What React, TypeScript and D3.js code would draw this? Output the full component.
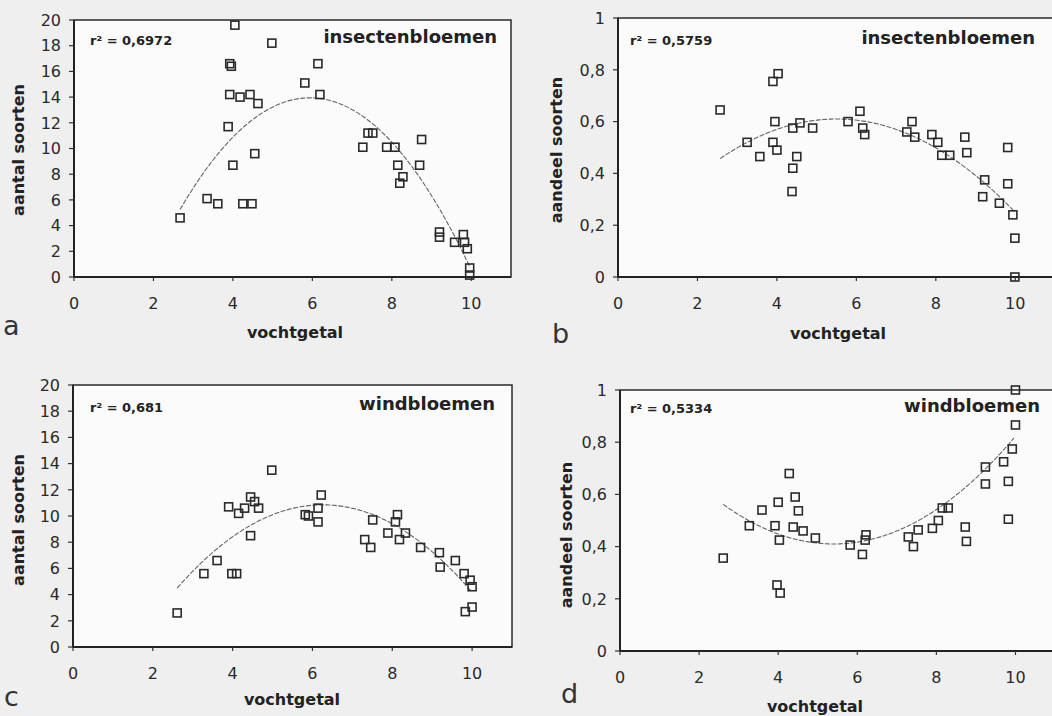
import { useEffect, useRef } from "react";
import * as d3 from "d3";

const W = 1052;
const H = 716;

// x ticks (vochtgetal) and y tick labels
const xTicks = [0, 2, 4, 6, 8, 10];
const countTicks = [0, 2, 4, 6, 8, 10, 12, 14, 16, 18, 20];
const shareTicks = [0, 0.2, 0.4, 0.6, 0.8, 1];
const shareTickLabels = ["0", "0,2", "0,4", "0,6", "0,8", "1"];

// a: insectenbloemen, aantal soorten
const insectCount = [
  [2.67, 4.6], [3.35, 6.1], [3.62, 5.7], [3.88, 11.7], [3.92, 16.6], [3.96, 16.4],
  [4.05, 19.6], [3.92, 14.2], [4.18, 14.0], [4.0, 8.7], [4.25, 5.7], [4.48, 5.7],
  [4.43, 14.2], [4.63, 13.5], [4.55, 9.6], [4.98, 18.2], [5.81, 15.1], [6.14, 16.6],
  [6.19, 14.2], [7.27, 10.1], [7.4, 11.2], [7.52, 11.2], [7.87, 10.1], [8.08, 10.1],
  [8.75, 10.7], [8.15, 8.7], [8.7, 8.7], [8.28, 7.8], [8.2, 7.3], [9.2, 3.5],
  [9.2, 3.1], [9.58, 2.7], [9.8, 3.3], [9.83, 2.7], [9.9, 2.2], [9.96, 0.7], [9.96, 0.15],
];
// b: insectenbloemen, aandeel soorten
const insectShare = [
  [2.57, 0.645], [3.25, 0.52], [3.57, 0.465], [3.9, 0.52], [4.0, 0.49], [3.9, 0.755],
  [4.03, 0.785], [3.95, 0.6], [4.38, 0.33], [4.4, 0.42], [4.5, 0.465], [4.4, 0.575],
  [4.58, 0.595], [4.9, 0.575], [5.79, 0.6], [6.09, 0.64], [6.16, 0.575], [6.21, 0.55],
  [7.27, 0.56], [7.4, 0.6], [7.47, 0.54], [7.9, 0.55], [8.05, 0.52], [8.15, 0.47],
  [8.35, 0.47], [8.73, 0.54], [8.78, 0.48], [9.23, 0.375], [9.18, 0.31], [9.6, 0.285],
  [9.81, 0.5], [9.81, 0.36], [9.94, 0.24], [9.99, 0.15], [9.99, 0.0],
];
// c: windbloemen, aantal soorten
const windCount = [
  [2.61, 2.6], [3.28, 5.6], [3.61, 6.6], [3.98, 5.6], [4.1, 5.6], [3.9, 10.7],
  [4.15, 10.2], [4.3, 10.6], [4.45, 11.45], [4.55, 11.1], [4.65, 10.6], [4.45, 8.5],
  [4.98, 13.5], [5.82, 10.1], [5.9, 10.0], [6.22, 11.6], [6.14, 10.6], [6.14, 9.55],
  [7.31, 8.2], [7.46, 7.6], [7.51, 9.7], [7.89, 8.7], [8.08, 9.55], [8.13, 10.1],
  [8.18, 8.2], [8.33, 8.7], [8.71, 7.6], [9.18, 7.2], [9.2, 6.1], [9.58, 6.6],
  [9.8, 5.6], [9.95, 5.1], [10.0, 4.6], [9.83, 2.7], [10.0, 3.05],
];
// d: windbloemen, aandeel soorten
const windShare = [
  [2.61, 0.356], [3.27, 0.48], [3.59, 0.54], [4.0, 0.57], [3.92, 0.48], [4.03, 0.425],
  [3.97, 0.253], [4.05, 0.222], [4.28, 0.68], [4.43, 0.59], [4.51, 0.537], [4.38, 0.475],
  [4.63, 0.46], [4.94, 0.433], [5.82, 0.406], [6.13, 0.37], [6.2, 0.425], [6.22, 0.445],
  [7.29, 0.437], [7.42, 0.4], [7.54, 0.464], [7.9, 0.47], [8.05, 0.5], [8.15, 0.548],
  [8.3, 0.548], [8.73, 0.475], [8.76, 0.42], [9.24, 0.64], [9.24, 0.705], [9.7, 0.725],
  [9.82, 0.65], [9.82, 0.505], [9.92, 0.774], [10.0, 0.866], [10.0, 1.0],
];

// quadratic fits: [c0, c1, c2] and x range of the drawn curve
const insectCountFit = [-14.74, 9.658, -0.813];
const insectShareFit = [0.0715, 0.1958, -0.0178];
const windCountFit = [-7.84, 5.972, -0.477];
const windShareFit = [0.9786, -0.2106, 0.0195];
const insectCountRange = [2.67, 10];
const insectShareRange = [2.57, 10];
const windCountRange = [2.61, 10];
const windShareRange = [2.61, 10];

const r2Labels = ["0,6972", "0,5759", "0,681", "0,5334"];
const panelTitles = ["insectenbloemen", "insectenbloemen", "windbloemen", "windbloemen"];
const yTitles = ["aantal soorten", "aandeel soorten", "aantal soorten", "aandeel soorten"];
const panelLetters = ["a", "b", "c", "d"];

const FONT = "'DejaVu Sans', Verdana, sans-serif";

const App = () => {
  const svgRef = useRef(null);

  useEffect(() => {
    const svg = d3.select(svgRef.current);
    svg.selectAll("*").remove();

    svg.append("rect").attr("width", W).attr("height", H).attr("fill", "#efefef");

    const panels = [
      { pts: insectCount, fit: insectCountFit, range: insectCountRange, share: false,
        box: { l: 74, t: 20, r: 511, b: 277 }, r2: [90, 45], title: [497, 43],
        xLab: [295, 338], yLab: [18, 150], letter: [3, 335] },
      { pts: insectShare, fit: insectShareFit, range: insectShareRange, share: true,
        box: { l: 618, t: 18, r: 1055, b: 277 }, r2: [630, 45], title: [1035, 44],
        xLab: [838, 339], yLab: [556, 150], letter: [552, 343] },
      { pts: windCount, fit: windCountFit, range: windCountRange, share: false,
        box: { l: 73, t: 385, r: 512, b: 647 }, r2: [90, 412], title: [495, 410],
        xLab: [292, 705], yLab: [18, 520], letter: [4, 706] },
      { pts: windShare, fit: windShareFit, range: windShareRange, share: true,
        box: { l: 620, t: 390, r: 1055, b: 651 }, r2: [630, 413], title: [1040, 412],
        xLab: [815, 712], yLab: [566, 535], letter: [561, 703] },
    ];

    panels.forEach((p, i) => {
      const { l, t, r, b } = p.box;
      const x = d3.scaleLinear().domain([0, 11]).range([l, r]);
      const y = d3.scaleLinear().domain([0, p.share ? 1 : 20]).range([b, t]);
      const g = svg.append("g");

      g.append("rect")
        .attr("x", l).attr("y", t).attr("width", r - l).attr("height", b - t)
        .attr("fill", "#fbfbfb")
        .attr("stroke", "#2a2a2a")
        .attr("stroke-width", 1.5);
      // heavier left/bottom axes
      g.append("line").attr("x1", l).attr("x2", l).attr("y1", t).attr("y2", b)
        .attr("stroke", "#222").attr("stroke-width", 2);
      g.append("line").attr("x1", l).attr("x2", r).attr("y1", b).attr("y2", b)
        .attr("stroke", "#222").attr("stroke-width", 2);

      const yt = p.share ? shareTicks : countTicks;
      yt.forEach((v, k) => {
        g.append("line").attr("x1", l - 5).attr("x2", l).attr("y1", y(v)).attr("y2", y(v))
          .attr("stroke", "#333").attr("stroke-width", 1.2);
        g.append("text")
          .attr("x", l - 13).attr("y", y(v)).attr("dy", "0.36em")
          .attr("text-anchor", "end")
          .style("font-family", FONT).style("font-size", "16px").attr("fill", "#2a2a2a")
          .text(p.share ? shareTickLabels[k] : String(v));
      });
      xTicks.forEach((v) => {
        g.append("line").attr("x1", x(v)).attr("x2", x(v)).attr("y1", b).attr("y2", b + 4)
          .attr("stroke", "#333").attr("stroke-width", 1.2);
        g.append("text")
          .attr("x", x(v)).attr("y", b + 32)
          .attr("text-anchor", "middle")
          .style("font-family", FONT).style("font-size", "16px").attr("fill", "#2a2a2a")
          .text(String(v));
      });

      // fitted curve
      const [c0, c1, c2] = p.fit;
      const xs = d3.range(p.range[0], p.range[1] + 0.001, 0.05);
      const line = d3.line()
        .x((d) => x(d))
        .y((d) => y(c0 + c1 * d + c2 * d * d))
        .curve(d3.curveLinear);
      g.append("path")
        .attr("d", line(xs))
        .attr("fill", "none")
        .attr("stroke", "#666")
        .attr("stroke-width", 1.1)
        .attr("stroke-dasharray", "5 1.5");

      // points
      g.append("g")
        .selectAll("rect")
        .data(p.pts)
        .join("rect")
        .attr("x", (d) => x(d[0]) - 4)
        .attr("y", (d) => y(d[1]) - 4)
        .attr("width", 8)
        .attr("height", 8)
        .attr("fill", "none")
        .attr("stroke", "#2a2a2a")
        .attr("stroke-width", 1.6);

      // texts
      g.append("text")
        .attr("x", p.r2[0]).attr("y", p.r2[1])
        .style("font-family", FONT).style("font-size", "13px").style("font-weight", "bold")
        .attr("fill", "#222")
        .text(`r\u00b2 = ${r2Labels[i]}`);
      g.append("text")
        .attr("x", p.title[0]).attr("y", p.title[1])
        .attr("text-anchor", "end")
        .style("font-family", FONT).style("font-size", "18px").style("font-weight", "bold")
        .attr("fill", "#222")
        .text(panelTitles[i]);
      g.append("text")
        .attr("x", p.xLab[0]).attr("y", p.xLab[1])
        .attr("text-anchor", "middle")
        .style("font-family", FONT).style("font-size", "16px").style("font-weight", "bold")
        .attr("fill", "#222")
        .text("vochtgetal");
      g.append("text")
        .attr("transform", `translate(${p.yLab[0] + 6},${p.yLab[1]}) rotate(-90)`)
        .attr("text-anchor", "middle")
        .style("font-family", FONT).style("font-size", "16px").style("font-weight", "bold")
        .attr("fill", "#222")
        .text(yTitles[i]);
      g.append("text")
        .attr("x", p.letter[0]).attr("y", p.letter[1])
        .style("font-family", FONT).style("font-size", "27px")
        .attr("fill", "#333")
        .text(panelLetters[i]);
    });
  }, []);

  return (
    <div style={{ position: "absolute", left: 0, top: 0 }}>
      <svg ref={svgRef} width={W} height={H} style={{ display: "block" }} />
    </div>
  );
};

export default App;
